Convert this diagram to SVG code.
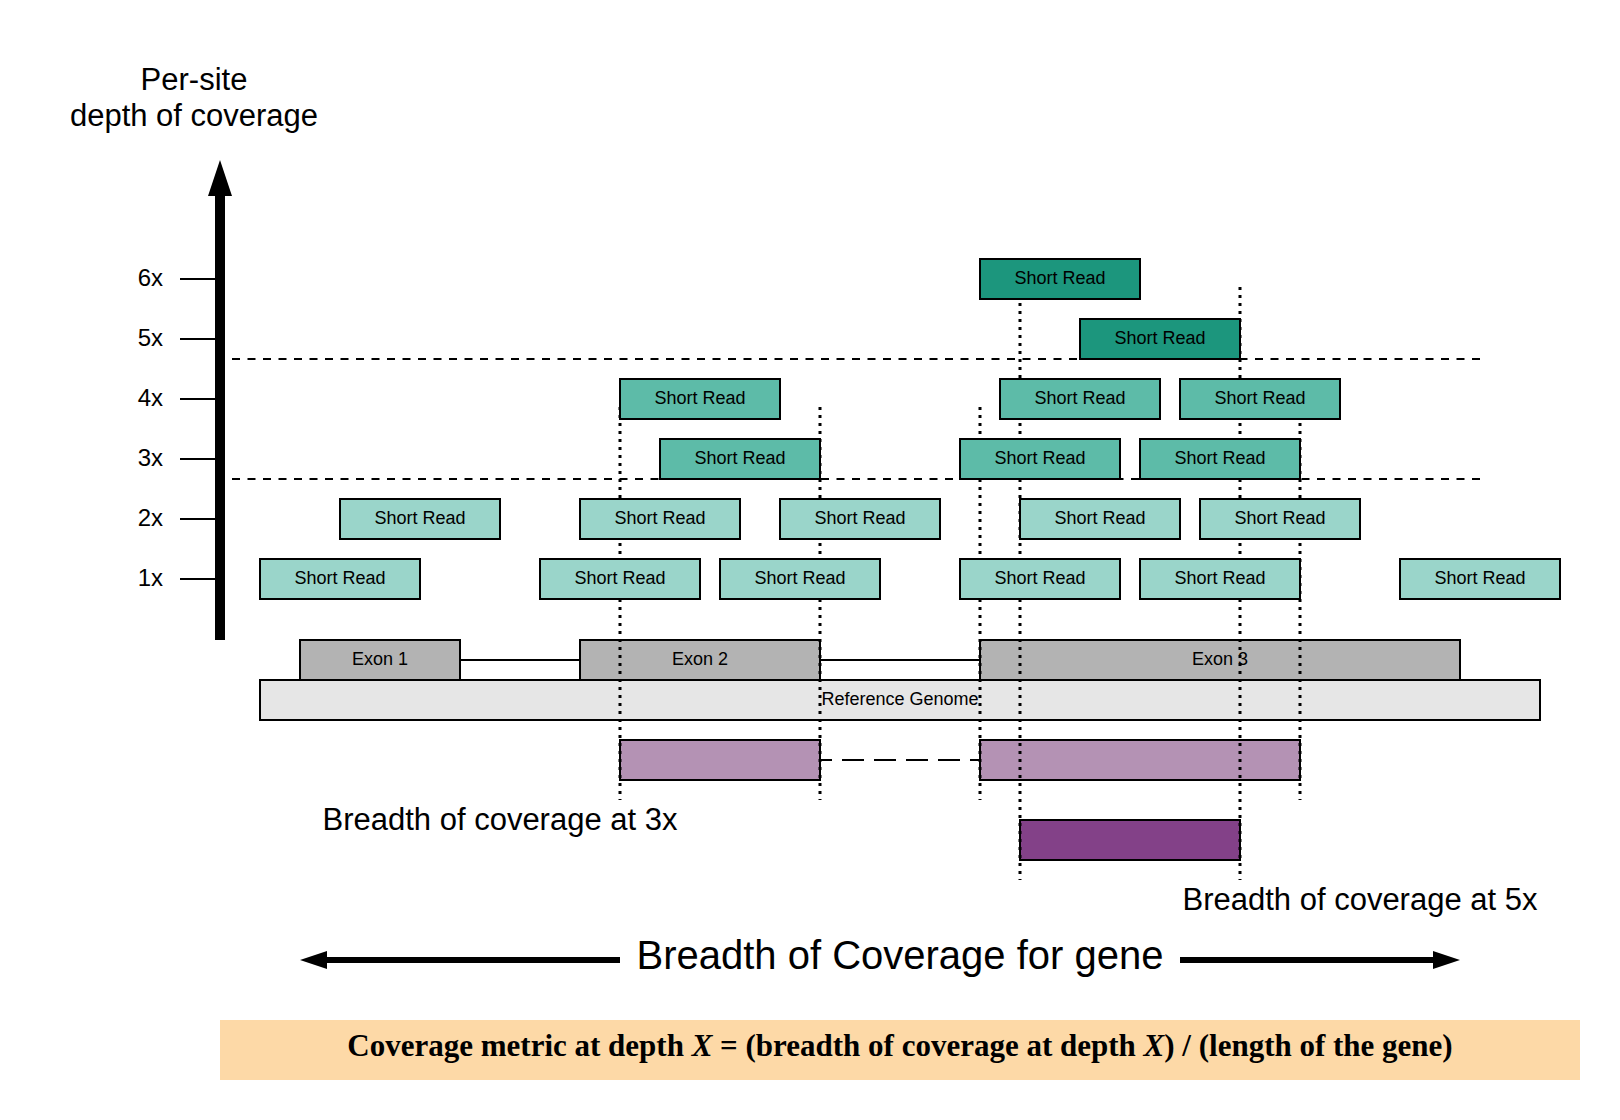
<svg xmlns="http://www.w3.org/2000/svg" width="1620" height="1120" viewBox="0 0 1620 1120">
<defs>
<style>
.read{stroke:#000;stroke-width:2}
.r1{fill:#9AD5CA}
.r2{fill:#5DBBA8}
.r3{fill:#1C967D}
.exon{fill:#B3B3B3;stroke:#000;stroke-width:2}
.ref{fill:#E6E6E6;stroke:#000;stroke-width:2}
.pl{fill:#B492B4;stroke:#000;stroke-width:2}
.pd{fill:#834188;stroke:#000;stroke-width:2}
.lbl{font-family:"Liberation Sans",Arial,sans-serif;font-size:18px;text-anchor:middle;fill:#000}
.big{font-family:"Liberation Sans",Arial,sans-serif;font-size:31px;text-anchor:middle;fill:#000}
.tick{font-family:"Liberation Sans",Arial,sans-serif;font-size:24px;text-anchor:end;fill:#000}
.dot{stroke:#000;stroke-width:3;stroke-dasharray:3 5;fill:none}
.dash{stroke:#000;stroke-width:2;stroke-dasharray:8 7.5;fill:none}
.thin{stroke:#000;stroke-width:2;fill:none}
</style>
</defs>
<rect width="1620" height="1120" fill="#fff"/>

<g id="axis">
<rect x="215" y="192" width="10" height="448" fill="#000"/>
<polygon points="220,160 232,196 208,196" fill="#000"/>
<g class="thin">
<line x1="180" y1="279" x2="216" y2="279"/>
<line x1="180" y1="339" x2="216" y2="339"/>
<line x1="180" y1="399" x2="216" y2="399"/>
<line x1="180" y1="459" x2="216" y2="459"/>
<line x1="180" y1="519" x2="216" y2="519"/>
<line x1="180" y1="579" x2="216" y2="579"/>
</g>
<text class="tick" x="163" y="286">6x</text>
<text class="tick" x="163" y="346">5x</text>
<text class="tick" x="163" y="406">4x</text>
<text class="tick" x="163" y="466">3x</text>
<text class="tick" x="163" y="526">2x</text>
<text class="tick" x="163" y="586">1x</text>
<text class="big" x="194" y="90">Per-site</text>
<text class="big" x="194" y="126">depth of coverage</text>
</g>

<g id="gene-structure">
<line class="thin" x1="460" y1="660" x2="580" y2="660"/>
<line class="thin" x1="820" y1="660" x2="980" y2="660"/>
<g id="exon1"><rect class="exon" x="300" y="640" width="160" height="40"/><text class="lbl" x="380" y="664.5">Exon 1</text></g>
<g id="exon2"><rect class="exon" x="580" y="640" width="240" height="40"/><text class="lbl" x="700" y="664.5">Exon 2</text></g>
<g id="exon3"><rect class="exon" x="980" y="640" width="480" height="40"/><text class="lbl" x="1220" y="664.5">Exon 3</text></g>
<g id="reference"><rect class="ref" x="260" y="680" width="1280" height="40"/><text class="lbl" x="900" y="704.5">Reference Genome</text></g>
</g>

<g id="breadth3x-a"><rect class="pl" x="620" y="740" width="200" height="40"/></g>
<g id="breadth3x-b"><rect class="pl" x="980" y="740" width="320" height="40"/></g>
<g id="breadth5x"><rect class="pd" x="1020" y="820" width="220" height="40"/></g>

<g id="connectors">
<line class="dash" x1="232" y1="359" x2="1480" y2="359"/>
<line class="dash" x1="232" y1="479" x2="1480" y2="479"/>
<line x1="820" y1="760" x2="980" y2="760" stroke="#000" stroke-width="2" stroke-dasharray="22 10" stroke-dashoffset="10"/>
<line class="dot" x1="620" y1="407" x2="620" y2="800"/>
<line class="dot" x1="820" y1="407" x2="820" y2="800"/>
<line class="dot" x1="980" y1="407" x2="980" y2="800"/>
<line class="dot" x1="1020" y1="303" x2="1020" y2="880"/>
<line class="dot" x1="1240" y1="287" x2="1240" y2="880"/>
<line class="dot" x1="1300" y1="423" x2="1300" y2="800"/>
<g id="gene-arrow">
<rect x="325" y="957" width="295" height="6" fill="#000"/>
<polygon points="300,960 327,951 327,969" fill="#000"/>
<rect x="1180" y="957" width="255" height="6" fill="#000"/>
<polygon points="1460,960 1433,951 1433,969" fill="#000"/>
</g>
</g>

<g id="reads">
<g id="read-1a"><rect class="read r1" x="260" y="559" width="160" height="40"/><text class="lbl" x="340" y="584">Short Read</text></g>
<g id="read-1b"><rect class="read r1" x="540" y="559" width="160" height="40"/><text class="lbl" x="620" y="584">Short Read</text></g>
<g id="read-1c"><rect class="read r1" x="720" y="559" width="160" height="40"/><text class="lbl" x="800" y="584">Short Read</text></g>
<g id="read-1d"><rect class="read r1" x="960" y="559" width="160" height="40"/><text class="lbl" x="1040" y="584">Short Read</text></g>
<g id="read-1e"><rect class="read r1" x="1140" y="559" width="160" height="40"/><text class="lbl" x="1220" y="584">Short Read</text></g>
<g id="read-1f"><rect class="read r1" x="1400" y="559" width="160" height="40"/><text class="lbl" x="1480" y="584">Short Read</text></g>
<g id="read-2a"><rect class="read r1" x="340" y="499" width="160" height="40"/><text class="lbl" x="420" y="524">Short Read</text></g>
<g id="read-2b"><rect class="read r1" x="580" y="499" width="160" height="40"/><text class="lbl" x="660" y="524">Short Read</text></g>
<g id="read-2c"><rect class="read r1" x="780" y="499" width="160" height="40"/><text class="lbl" x="860" y="524">Short Read</text></g>
<g id="read-2d"><rect class="read r1" x="1020" y="499" width="160" height="40"/><text class="lbl" x="1100" y="524">Short Read</text></g>
<g id="read-2e"><rect class="read r1" x="1200" y="499" width="160" height="40"/><text class="lbl" x="1280" y="524">Short Read</text></g>
<g id="read-3a"><rect class="read r2" x="660" y="439" width="160" height="40"/><text class="lbl" x="740" y="464">Short Read</text></g>
<g id="read-3b"><rect class="read r2" x="960" y="439" width="160" height="40"/><text class="lbl" x="1040" y="464">Short Read</text></g>
<g id="read-3c"><rect class="read r2" x="1140" y="439" width="160" height="40"/><text class="lbl" x="1220" y="464">Short Read</text></g>
<g id="read-4a"><rect class="read r2" x="620" y="379" width="160" height="40"/><text class="lbl" x="700" y="404">Short Read</text></g>
<g id="read-4b"><rect class="read r2" x="1000" y="379" width="160" height="40"/><text class="lbl" x="1080" y="404">Short Read</text></g>
<g id="read-4c"><rect class="read r2" x="1180" y="379" width="160" height="40"/><text class="lbl" x="1260" y="404">Short Read</text></g>
<g id="read-5a"><rect class="read r3" x="1080" y="319" width="160" height="40"/><text class="lbl" x="1160" y="344">Short Read</text></g>
<g id="read-6a"><rect class="read r3" x="980" y="259" width="160" height="40"/><text class="lbl" x="1060" y="284">Short Read</text></g>
</g>

<g id="labels">
<text class="big" x="500" y="830">Breadth of coverage at 3x</text>
<text class="big" x="1360" y="910">Breadth of coverage at 5x</text>
<text class="big" x="900" y="969" style="font-size:40px">Breadth of Coverage for gene</text>
</g>

<g id="formula">
<rect x="220" y="1020" width="1360" height="60" fill="#FDD9A7"/>
<text x="900" y="1056" text-anchor="middle" style="font-family:'Liberation Serif','Times New Roman',serif;font-size:31px;font-weight:bold">Coverage metric at depth <tspan font-style="italic">X</tspan> = (breadth of coverage at depth <tspan font-style="italic">X</tspan>) / (length of the gene)</text>
</g>
</svg>
